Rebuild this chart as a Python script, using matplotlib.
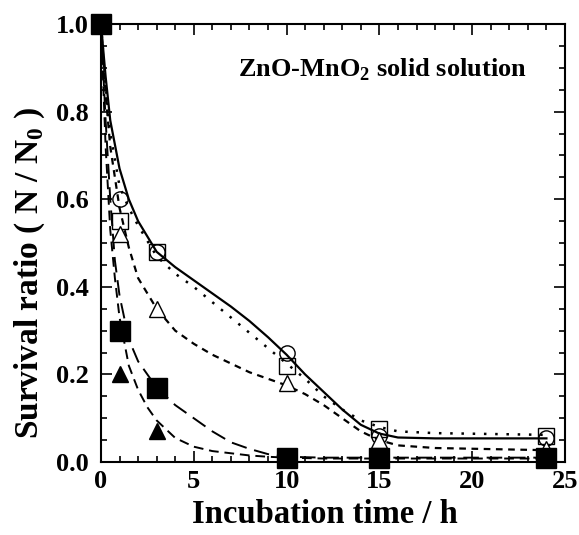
import matplotlib
matplotlib.use("Agg")
import matplotlib.pyplot as plt
from matplotlib.ticker import MultipleLocator

plt.rcParams['font.family'] = ['Liberation Serif', 'DejaVu Serif']
plt.rcParams['font.weight'] = 'bold'
plt.rcParams['mathtext.fontset'] = 'custom'
plt.rcParams['mathtext.rm'] = 'Liberation Serif:bold'
plt.rcParams['mathtext.bf'] = 'Liberation Serif:bold'

# measured points
t = [0, 1, 3, 10, 15, 24]
circ = [1.0, 0.60, 0.48, 0.25, 0.06, 0.055]
sq_open = [1.0, 0.55, 0.48, 0.22, 0.075, 0.06]
tri_open = [1.0, 0.52, 0.35, 0.18, 0.05, 0.03]
sq_fill = [1.0, 0.30, 0.17, 0.01, 0.01, 0.01]
tri_fill = [1.0, 0.20, 0.07, 0.01, 0.01, 0.01]

# fitted curves
cx_a = [0, 0.25, 0.5, 1, 1.5, 2, 3, 4, 5, 6, 7, 8, 9, 10, 11, 12, 13, 14, 15, 16, 18, 24]
c_solid = [1.0, 0.88, 0.78, 0.67, 0.60, 0.55, 0.48, 0.445, 0.415, 0.385, 0.355, 0.322, 0.285,
           0.245, 0.20, 0.16, 0.12, 0.085, 0.065, 0.056, 0.054, 0.054]
c_dot = [1.0, 0.86, 0.75, 0.63, 0.58, 0.54, 0.47, 0.43, 0.40, 0.365, 0.33, 0.295, 0.26,
         0.225, 0.19, 0.15, 0.12, 0.095, 0.08, 0.07, 0.066, 0.062]
c_short = [1.0, 0.84, 0.72, 0.58, 0.49, 0.42, 0.35, 0.30, 0.27, 0.245, 0.225, 0.205, 0.19,
           0.175, 0.155, 0.13, 0.10, 0.07, 0.05, 0.038, 0.032, 0.027]
cx_b = [0, 0.25, 0.5, 0.75, 1, 1.5, 2, 2.5, 3, 4, 5, 6, 7, 8, 9, 10, 12, 15, 20, 24]
c_long = [1.0, 0.78, 0.60, 0.46, 0.38, 0.28, 0.23, 0.20, 0.17, 0.13, 0.10, 0.07, 0.045,
          0.03, 0.018, 0.012, 0.01, 0.01, 0.01, 0.01]
c_dash = [1.0, 0.72, 0.53, 0.42, 0.33, 0.22, 0.165, 0.125, 0.095, 0.055, 0.035, 0.025,
          0.02, 0.015, 0.012, 0.01, 0.008, 0.008, 0.008, 0.008]

fig = plt.figure(figsize=(5.79, 5.35), dpi=100)
ax = fig.add_axes([0.1744, 0.1364, 0.8014, 0.8186])

ax.plot(cx_a, c_solid, '-', color='black', lw=1.6)
ax.plot(cx_a, c_dot, ':', color='black', lw=1.8, dashes=(1, 3.5))
ax.plot(cx_a, c_short, '--', color='black', lw=1.6, dashes=(3, 2.5))
ax.plot(cx_b, c_long, '--', color='black', lw=1.4, dashes=(8, 4))
ax.plot(cx_b, c_dash, '--', color='black', lw=1.4, dashes=(5, 3))

mk = dict(ls='none', color='black', clip_on=False, zorder=5)
ax.plot(t, circ, marker='o', ms=11, mfc='none', mew=1.0, **mk)
ax.plot(t, sq_open, marker='s', ms=11, mfc='none', mew=1.0, **mk)
ax.plot(t, tri_open, marker='^', ms=11, mfc='white', mew=1.0, **mk)
ax.plot(t, tri_fill, marker='^', ms=11, mfc='black', **mk)
ax.plot(t, sq_fill, marker='s', ms=14, mfc='black', **mk)

ax.set_xlim(0, 25)
ax.set_ylim(0, 1.0)
ax.xaxis.set_major_locator(MultipleLocator(5))
ax.xaxis.set_minor_locator(MultipleLocator(1))
ax.yaxis.set_major_locator(MultipleLocator(0.2))
ax.yaxis.set_minor_locator(MultipleLocator(0.05))
ax.set_yticks([0.0, 0.2, 0.4, 0.6, 0.8, 1.0])
ax.set_yticklabels(['0.0', '0.2', '0.4', '0.6', '0.8', '1.0'])
ax.tick_params(which='both', direction='in', top=True, right=True, labelsize=19, width=1.2)
ax.tick_params(which='major', length=8)
ax.tick_params(which='minor', length=4)
ax.tick_params(axis='y', which='major', pad=9)
ax.tick_params(axis='x', which='major', pad=6)
for s in ax.spines.values():
    s.set_linewidth(1.5)

ax.set_xlabel('Incubation time / h', fontsize=23.5, fontweight='bold')
ax.set_ylabel(r'Survival ratio ( N / N$_0$ )', fontsize=24, fontweight='bold')
ax.xaxis.set_label_coords(0.483, -0.085)
ax.yaxis.set_label_coords(-0.117, 0.432)
ax.text(0.918, 0.895, r'ZnO-MnO$_2$ solid solution', transform=ax.transAxes,
        ha='right', va='center', fontsize=19, fontweight='bold')

fig.savefig('out.png', dpi=100)
